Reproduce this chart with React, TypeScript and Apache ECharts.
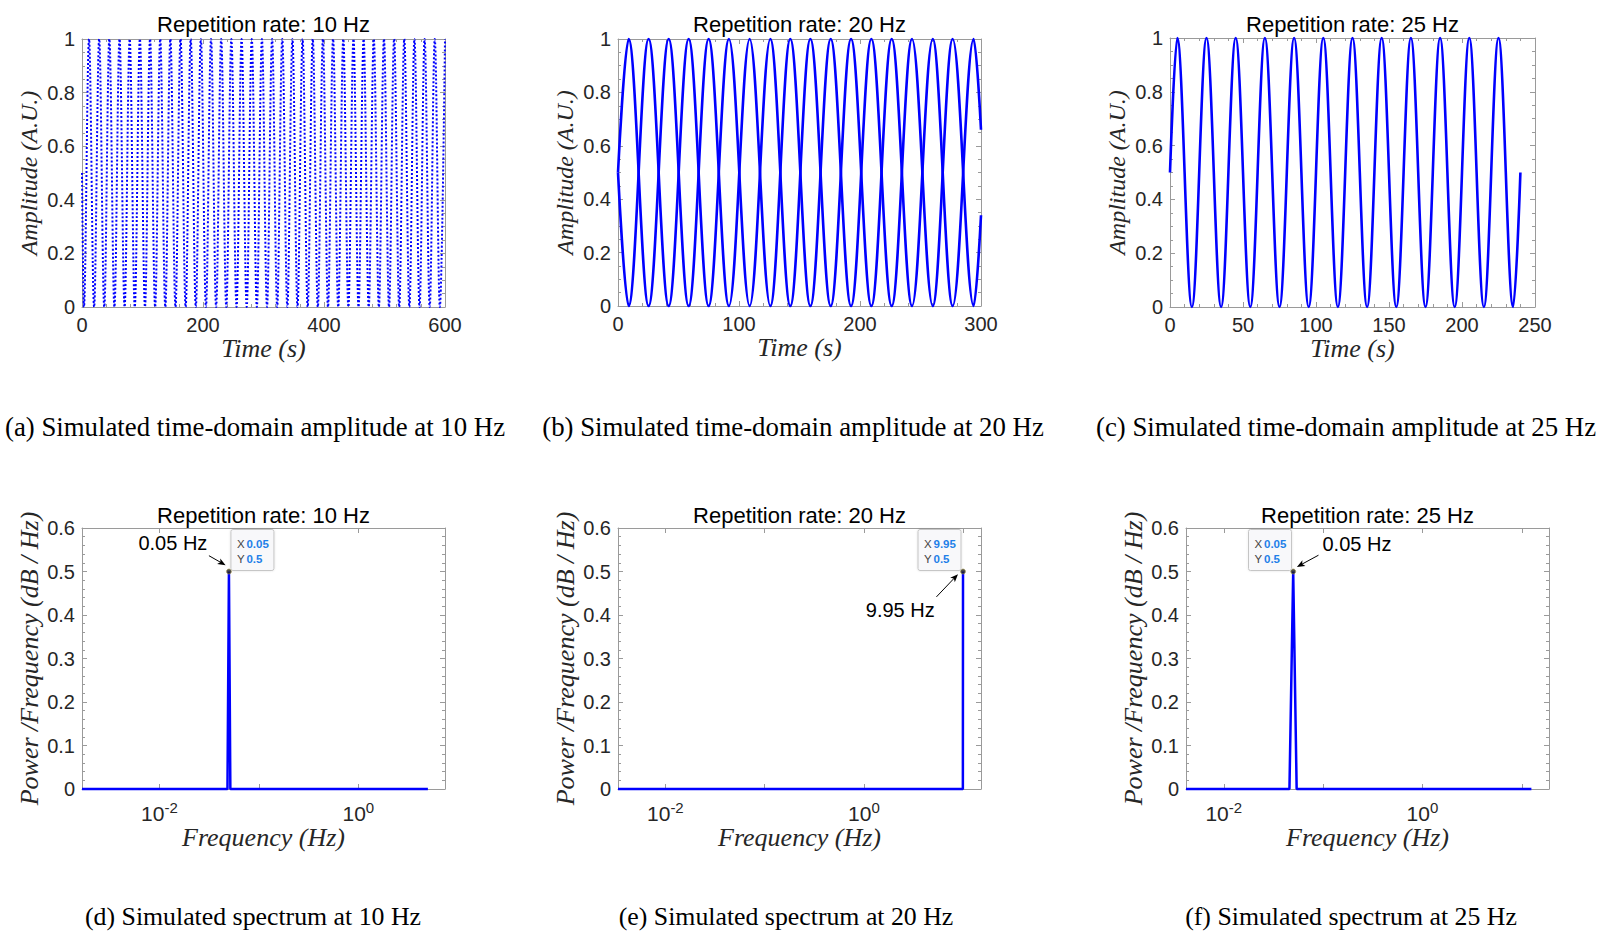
import React, { useEffect, useRef } from "react";
import * as echarts from "echarts";

const W = 1607;
const H = 931;
const BLUE = "#0000ff";
const AXIS = "#9a9a9a";
const TEXT = "#262626";
const SANS = "'Liberation Sans', Arial, Helvetica, sans-serif";
const SERIF = "'Liberation Serif', 'Times New Roman', serif";

// ---------- data ----------
// (a) 10 Hz: extrema of the sampled trace (time in s, amplitude)
const aTime = [
  0, 3.2, 11.6, 20.0, 28.4, 36.8, 45.2, 53.6, 62.0, 70.4, 78.8, 87.2, 95.7, 104.1, 112.5, 120.9, 129.3,
  137.7, 146.1, 154.5, 162.9, 171.3, 179.7, 188.1, 196.5, 204.9, 213.3, 221.7, 230.1, 238.5, 246.9,
  255.4, 263.8, 272.2, 280.6, 289.0, 297.4, 305.8, 314.2, 322.6, 331.0, 339.4, 347.8, 356.2, 364.6,
  373.0, 381.4, 389.8, 398.2, 406.6, 415.0, 423.5, 431.9, 440.3, 448.7, 457.1, 465.5, 473.9, 482.3,
  490.7, 499.1, 507.5, 515.9, 524.3, 532.7, 541.1, 549.5, 557.9, 566.3, 574.7, 583.1, 591.5, 600,
];
const aAmp = [
  0.5, 0, 1, 0, 1, 0, 1, 0, 1, 0, 1, 0, 1, 0, 1, 0, 1, 0, 1, 0, 1, 0, 1, 0, 1, 0, 1, 0, 1, 0, 1, 0, 1,
  0, 1, 0, 1, 0, 1, 0, 1, 0, 1, 0, 1, 0, 1, 0, 1, 0, 1, 0, 1, 0, 1, 0, 1, 0, 1, 0, 1, 0, 1, 0, 1, 0, 1,
  0, 1, 0, 1, 0, 1,
];
// (b) 20 Hz: two interleaved envelopes
const bTime = [
  0, 8.8, 25.3, 41.9, 58.4, 74.9, 91.7, 108.8, 125.9, 142.4, 159.0, 175.8, 192.6, 209.4, 226.2, 243.0,
  260.1, 276.6, 293.9, 300,
];
const bUpper = [0.5, 1, 0, 1, 0, 1, 0, 1, 0, 1, 0, 1, 0, 1, 0, 1, 0, 1, 0, 0.34];
const bLower = [0.5, 0, 1, 0, 1, 0, 1, 0, 1, 0, 1, 0, 1, 0, 1, 0, 1, 0, 1, 0.66];
// (c) 25 Hz
const cTime = [
  0, 5, 15, 25, 35, 45, 55, 65, 75, 85, 95, 105, 115, 125, 135, 145, 155, 165, 175, 185, 195, 205, 215,
  225, 235, 240,
];
const cAmp = [0.5, 1, 0, 1, 0, 1, 0, 1, 0, 1, 0, 1, 0, 1, 0, 1, 0, 1, 0, 1, 0, 1, 0, 1, 0, 0.5];
// spectra (frequency in Hz, power)
const dFreq = [0.001667, 0.04833, 0.05, 0.05167, 5];
const dPower = [0, 0, 0.5, 0, 0];
const eFreq = [0.003333, 9.9167, 9.95];
const ePower = [0, 0, 0.5];
const fFreq = [0.004167, 0.04583, 0.05, 0.05417, 12.5];
const fPower = [0, 0, 0.5, 0, 0];

const timeMax = [600, 300, 250];
const timeStep = [200, 100, 50];
const freqMin = [0.001667, 0.003333, 0.004167];
const freqMax = [7.43, 15.1, 18.8];
const peakPoints = [
  [0.05, 0.5],
  [9.95, 0.5],
  [0.05, 0.5],
];
const peakLabels = ["0.05 Hz", "9.95 Hz", "0.05 Hz"];
const tipX = ["0.05", "9.95", "0.05"];
const tipY = ["0.5", "0.5", "0.5"];
const titles = [
  "Repetition rate: 10 Hz",
  "Repetition rate: 20 Hz",
  "Repetition rate: 25 Hz",
  "Repetition rate: 10 Hz",
  "Repetition rate: 20 Hz",
  "Repetition rate: 25 Hz",
];
const captions = [
  "(a) Simulated time-domain amplitude at 10 Hz",
  "(b) Simulated time-domain amplitude at 20 Hz",
  "(c) Simulated time-domain amplitude at 25 Hz",
  "(d) Simulated spectrum at 10 Hz",
  "(e) Simulated spectrum at 20 Hz",
  "(f) Simulated spectrum at 25 Hz",
];

// ---------- layout ----------
const grids = [
  { left: 82, top: 39, width: 363, height: 268 },
  { left: 618, top: 39, width: 363, height: 267 },
  { left: 1170, top: 38, width: 365, height: 269 },
  { left: 82, top: 528, width: 363, height: 261 },
  { left: 618, top: 528, width: 363, height: 261 },
  { left: 1186, top: 528, width: 363, height: 261 },
];
const titleY = [24.5, 24.5, 24.5, 515, 515, 515];
const captionPos = [
  [255, 427],
  [793, 427],
  [1346, 427],
  [253, 916],
  [786, 916],
  [1351, 916],
];
const captionSize = [26.8, 26.8, 26.8, 25.8, 25.8, 25.8];
// annotation offsets relative to the peak pixel
const annot = [
  { box: [2, -42], textX: -21.6, textY: -29, align: "right", tail: [-20, -15.8], head: [-3.3, -6.3] },
  { box: [-45, -42], textX: -28.3, textY: 38, align: "right", tail: [-26.6, 25.4], head: [-5, 2.7] },
  { box: [-44.7, -42], textX: 29.3, textY: -28, align: "left", tail: [25.3, -16.3], head: [3.7, -4.6] },
];

const tickStyle = { show: true, inside: true, length: 5, lineStyle: { color: AXIS, width: 1 } };
const minor = (n: number) => ({ show: true, splitNumber: n, length: 3, lineStyle: { color: AXIS, width: 1 } });
const axisLine = { show: true, onZero: false, lineStyle: { color: AXIS, width: 1 } };
const nameStyle = (size: number) => ({ fontFamily: SERIF, fontStyle: "italic", fontSize: size, color: TEXT });
const labelStyle = { color: TEXT, fontSize: 20, fontFamily: SANS };

function logLabel(v: number) {
  const e = Math.log10(v);
  const r = Math.round(e);
  if (Math.abs(e - r) > 1e-6 || r % 2 !== 0) return "";
  return `{b|10}{s|${r}}`;
}

function buildOption() {
  const xAxis: any[] = [];
  const yAxis: any[] = [];
  for (let i = 0; i < 6; i++) {
    if (i < 3) {
      const base = {
        type: "value",
        gridIndex: i,
        min: 0,
        max: timeMax[i],
        interval: timeStep[i],
        axisLine,
        axisTick: tickStyle,
        minorTick: minor(5),
        splitLine: { show: false },
        minorSplitLine: { show: false },
      };
      xAxis.push({
        ...base,
        position: "bottom",
        axisLabel: { ...labelStyle, margin: 8 },
        name: "Time (s)",
        nameLocation: "middle",
        nameGap: 27,
        nameTextStyle: nameStyle(26),
      });
      xAxis.push({ ...base, position: "top", axisLabel: { show: false } });
      const ybase = {
        type: "value",
        gridIndex: i,
        min: 0,
        max: 1,
        interval: 0.2,
        axisLine,
        axisTick: tickStyle,
        minorTick: minor(4),
        splitLine: { show: false },
      };
      yAxis.push({
        ...ybase,
        position: "left",
        axisLabel: { ...labelStyle, margin: 7 },
        name: "Amplitude (A.U.)",
        nameLocation: "middle",
        nameGap: 41,
        nameTextStyle: nameStyle(24),
      });
      yAxis.push({ ...ybase, position: "right", axisLabel: { show: false } });
    } else {
      const k = i - 3;
      const base = {
        type: "log",
        logBase: 10,
        gridIndex: i,
        min: freqMin[k],
        max: freqMax[k],
        axisLine,
        axisTick: tickStyle,
        splitLine: { show: false },
      };
      xAxis.push({
        ...base,
        position: "bottom",
        axisLabel: {
          ...labelStyle,
          margin: 11,
          formatter: logLabel,
          rich: {
            b: { fontSize: 21, fontFamily: SANS, color: TEXT, lineHeight: 27 },
            s: { fontSize: 15, fontFamily: SANS, color: TEXT, lineHeight: 13, verticalAlign: "top" },
          },
        },
        name: "Frequency (Hz)",
        nameLocation: "middle",
        nameGap: 35,
        nameTextStyle: nameStyle(26),
      });
      xAxis.push({ ...base, position: "top", axisLabel: { show: false } });
      const ybase = {
        type: "value",
        gridIndex: i,
        min: 0,
        max: 0.6,
        interval: 0.1,
        axisLine,
        axisTick: tickStyle,
        minorTick: minor(5),
        splitLine: { show: false },
      };
      yAxis.push({
        ...ybase,
        position: "left",
        axisLabel: { ...labelStyle, margin: 7 },
        name: "Power /Frequency (dB / Hz)",
        nameLocation: "middle",
        nameGap: 40,
        nameTextStyle: nameStyle(26),
      });
      yAxis.push({ ...ybase, position: "right", axisLabel: { show: false } });
    }
  }

  const pairs = (xs: number[], ys: number[]) => xs.map((x, j) => [x, ys[j]]);
  const wave = (g: number, data: number[][], lineStyle: any) => ({
    type: "line",
    xAxisIndex: g * 2,
    yAxisIndex: g * 2,
    data,
    showSymbol: false,
    smooth: 0.36,
    smoothMonotone: "x",
    clip: false,
    silent: true,
    lineStyle,
  });
  const spec = (g: number, data: number[][]) => ({
    type: "line",
    xAxisIndex: g * 2,
    yAxisIndex: g * 2,
    data,
    showSymbol: false,
    clip: false,
    silent: true,
    lineStyle: { color: BLUE, width: 2.5 },
  });
  const series: any[] = [
    wave(0, pairs(aTime, aAmp), { color: BLUE, width: 2, type: [2, 2] }),
    wave(1, pairs(bTime, bUpper), { color: BLUE, width: 2.6 }),
    wave(1, pairs(bTime, bLower), { color: BLUE, width: 2.6 }),
    wave(2, pairs(cTime, cAmp), { color: BLUE, width: 2.6 }),
    spec(3, pairs(dFreq, dPower)),
    spec(4, pairs(eFreq, ePower)),
    spec(5, pairs(fFreq, fPower)),
  ];
  peakPoints.forEach((p, k) => {
    series.push({
      type: "scatter",
      xAxisIndex: (k + 3) * 2,
      yAxisIndex: (k + 3) * 2,
      data: [p],
      symbolSize: 5,
      z: 10,
      silent: true,
      itemStyle: { color: "#1e1e1e", borderColor: "#a89a50", borderWidth: 0.8 },
    });
  });

  return {
    animation: false,
    backgroundColor: "#ffffff",
    grid: grids.map((g) => ({ ...g, containLabel: false })),
    xAxis,
    yAxis,
    series,
  };
}

function txt(x: number, y: number, text: string, opts: any) {
  const align = opts.align || "center";
  const va = opts.verticalAlign || "middle";
  return {
    type: "text",
    x,
    y,
    silent: true,
    z: 100,
    style: {
      text,
      fill: opts.fill || "#000",
      fontSize: opts.fontSize,
      fontFamily: opts.fontFamily || SANS,
      fontWeight: opts.fontWeight || "normal",
      align,
      textAlign: align,
      verticalAlign: va,
      textVerticalAlign: va,
    },
  };
}

function buildGraphics(chart: any) {
  const g: any[] = [];
  grids.forEach((gr, i) => {
    g.push(txt(gr.left + gr.width / 2, titleY[i], titles[i], { fontSize: 22, fill: "#000" }));
    g.push(
      txt(captionPos[i][0], captionPos[i][1], captions[i], { fontSize: captionSize[i], fontFamily: SERIF, fill: "#000" })
    );
  });
  peakPoints.forEach((p, k) => {
    const P = chart.convertToPixel({ seriesIndex: 7 + k }, p);
    if (!P) return;
    const a = annot[k];
    const bx = P[0] + a.box[0];
    const by = P[1] + a.box[1];
    g.push({
      type: "rect",
      silent: true,
      z: 90,
      shape: { x: bx, y: by, width: 43, height: 41, r: 2 },
      style: { fill: "#f8f8fa", stroke: "#c6c6c6", lineWidth: 1, shadowBlur: 2, shadowColor: "rgba(0,0,0,0.12)" },
    });
    g.push(txt(bx + 6, by + 14, "X", { fontSize: 11.5, fill: "#444", align: "left" }));
    g.push(txt(bx + 15.5, by + 14, tipX[k], { fontSize: 11.5, fill: "#1f80e8", fontWeight: "bold", align: "left" }));
    g.push(txt(bx + 6, by + 29.5, "Y", { fontSize: 11.5, fill: "#444", align: "left" }));
    g.push(txt(bx + 15.5, by + 29.5, tipY[k], { fontSize: 11.5, fill: "#1f80e8", fontWeight: "bold", align: "left" }));
    g.push(txt(P[0] + a.textX, P[1] + a.textY, peakLabels[k], { fontSize: 20, fill: "#000", align: a.align }));
    const tx = P[0] + a.tail[0];
    const ty = P[1] + a.tail[1];
    const hx = P[0] + a.head[0];
    const hy = P[1] + a.head[1];
    const len = Math.hypot(hx - tx, hy - ty);
    const ux = (hx - tx) / len;
    const uy = (hy - ty) / len;
    const nx = -uy;
    const ny = ux;
    g.push({
      type: "line",
      silent: true,
      z: 95,
      shape: { x1: tx, y1: ty, x2: hx - ux * 5, y2: hy - uy * 5 },
      style: { stroke: "#000", lineWidth: 1 },
    });
    g.push({
      type: "polygon",
      silent: true,
      z: 95,
      shape: {
        points: [
          [hx, hy],
          [hx - ux * 8 + nx * 3.2, hy - uy * 8 + ny * 3.2],
          [hx - ux * 6, hy - uy * 6],
          [hx - ux * 8 - nx * 3.2, hy - uy * 8 - ny * 3.2],
        ],
      },
      style: { fill: "#000" },
    });
  });
  return g;
}

export default function App() {
  const ref = useRef<HTMLDivElement>(null);
  useEffect(() => {
    const el = ref.current;
    if (!el) return;
    const chart = echarts.init(el, null, { renderer: "svg" });
    chart.setOption(buildOption() as any);
    chart.setOption({ graphic: buildGraphics(chart) } as any);
    return () => {
      chart.dispose();
    };
  }, []);
  return (
    <div
      ref={ref}
      style={{ position: "fixed", left: 0, top: 0, width: W, height: H, background: "#ffffff" }}
    />
  );
}
